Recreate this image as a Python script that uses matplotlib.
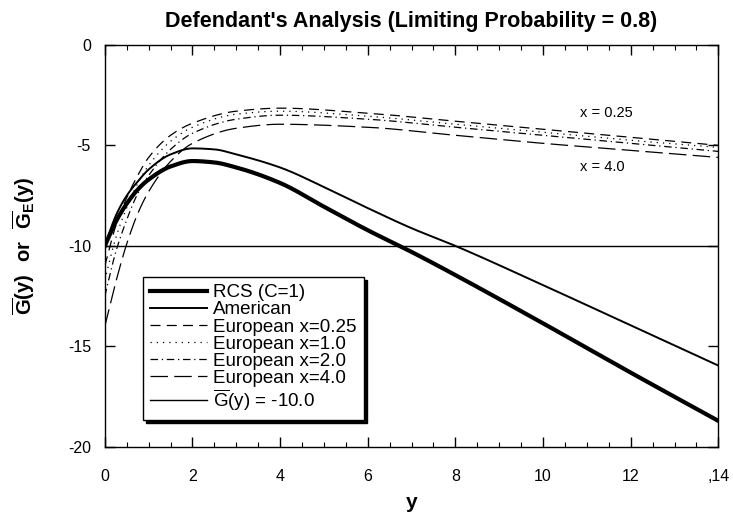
import numpy as np
import matplotlib
matplotlib.use("Agg")
import matplotlib.pyplot as plt

plt.rcParams['font.family'] = ['Liberation Sans', 'DejaVu Sans']
plt.rcParams['mathtext.fontset'] = 'custom'
plt.rcParams['mathtext.rm'] = 'Liberation Sans'
plt.rcParams['mathtext.bf'] = 'Liberation Sans:bold'
plt.rcParams['axes.unicode_minus'] = False

y_pts = [0, 0.25, 0.5, 0.75, 1, 1.5, 2, 2.5, 3, 4, 5, 6, 7, 8, 10, 12, 14]

rcs = [-10, -8.8, -7.9, -7.2, -6.7, -6.05, -5.78, -5.85, -6.1, -6.87, -8.05, -9.22, -10.3, -11.45, -13.85, -16.3, -18.7]
american = [-10, -8.5, -7.5, -6.8, -6.2, -5.45, -5.15, -5.2, -5.45, -6.1, -7.07, -8.12, -9.12, -10.0, -11.95, -13.95, -15.95]

y_eu = [0, 0.25, 0.5, 0.75, 1, 1.5, 2, 3, 4, 6, 8, 10, 12, 14]
eu_025 = [-11.0, -9.0, -7.6, -6.5, -5.6, -4.5, -3.9, -3.3, -3.15, -3.4, -3.8, -4.2, -4.6, -5.0]
eu_10 = [-11.7, -9.6, -8.1, -6.9, -6.0, -4.8, -4.1, -3.45, -3.3, -3.55, -3.95, -4.35, -4.75, -5.1]
eu_20 = [-12.5, -10.3, -8.7, -7.4, -6.5, -5.2, -4.4, -3.7, -3.5, -3.7, -4.1, -4.5, -4.9, -5.3]
eu_40 = [-14.0, -11.8, -9.9, -8.4, -7.3, -5.8, -4.9, -4.15, -3.95, -4.1, -4.5, -4.9, -5.25, -5.6]

g_level = -10.0


def pchip(xp, fp, n=500):
    # shape preserving cubic through the read-off points
    x = np.asarray(xp, float)
    y = np.asarray(fp, float)
    h = np.diff(x)
    d = np.diff(y) / h
    m = np.zeros_like(y)
    for i in range(1, len(x) - 1):
        if d[i - 1] * d[i] > 0:
            w1 = 2 * h[i] + h[i - 1]
            w2 = h[i] + 2 * h[i - 1]
            m[i] = (w1 + w2) / (w1 / d[i - 1] + w2 / d[i])
    m[0] = d[0]
    m[-1] = d[-1]
    xs = np.linspace(x[0], x[-1], n)
    k = np.clip(np.searchsorted(x, xs) - 1, 0, len(x) - 2)
    t = (xs - x[k]) / h[k]
    h00 = 2 * t**3 - 3 * t**2 + 1
    h10 = t**3 - 2 * t**2 + t
    h01 = -2 * t**3 + 3 * t**2
    h11 = t**3 - t**2
    ys = h00 * y[k] + h10 * h[k] * m[k] + h01 * y[k + 1] + h11 * h[k] * m[k + 1]
    return xs, ys


fig = plt.figure(figsize=(7.33, 5.21), dpi=100)
ax = fig.add_axes([0.143, 0.142, 0.837, 0.772])

ax.plot(*pchip(y_pts, rcs), color='black', lw=3.0, label='RCS (C=1)')
ax.plot(*pchip(y_pts, american), color='black', lw=1.4, label='American')
ax.plot(*pchip(y_eu, eu_025), color='black', lw=0.9, dashes=(8, 5), label='European x=0.25')
ax.plot(*pchip(y_eu, eu_10), color='black', lw=0.9, dashes=(1, 4), label='European x=1.0')
ax.plot(*pchip(y_eu, eu_20), color='black', lw=0.9, dashes=(6, 3, 1, 3), label='European x=2.0')
ax.plot(*pchip(y_eu, eu_40), color='black', lw=0.9, dashes=(14, 5), label='European x=4.0')
ax.axhline(g_level, color='black', lw=1.0, label=r'$\overline{\mathrm{G}}$(y) = -10.0')

ax.set_xlim(0, 14)
ax.set_ylim(-20, 0)
ax.set_xticks([0, 2, 4, 6, 8, 10, 12, 14])
ax.set_xticklabels(['0', '2', '4', '6', '8', '10', '12', ',14'])
ax.set_xticks(np.arange(0, 14.01, 0.5), minor=True)
ax.set_yticks([0, -5, -10, -15, -20])
ax.tick_params(which='both', direction='in', top=True, right=True, labelsize=11.5)
ax.tick_params(axis='x', pad=16)
ax.tick_params(axis='y', pad=10)
ax.tick_params(which='major', length=7, width=1)
ax.tick_params(which='minor', length=3.5, width=0.8)
for s in ax.spines.values():
    s.set_linewidth(1.0)

ax.set_title("Defendant's Analysis (Limiting Probability = 0.8)", fontsize=15.5,
             fontweight='bold', pad=13)
ax.set_xlabel('y', fontsize=15, fontweight='bold', labelpad=6)
ax.set_ylabel(r'$\mathbf{\overline{G}(y)\ \ or\ \ \overline{G}_E(y)}$',
              fontsize=14.5, labelpad=22)

ax.text(10.85, -3.4, 'x = 0.25', fontsize=10.5, va='center')
ax.text(10.85, -6.1, 'x = 4.0', fontsize=10.5, va='center')

leg = ax.legend(loc='lower left', bbox_to_anchor=(0.062, 0.067), fontsize=13.5,
                frameon=True, fancybox=False,
                shadow={'color': 'black', 'alpha': 1.0, 'ox': 2.2, 'oy': -2.2},
                handlelength=3.0, handletextpad=0.35, labelspacing=0.0,
                borderpad=0.4, borderaxespad=0)
leg.get_frame().set_edgecolor('black')
leg.get_frame().set_linewidth(1.0)
leg.get_frame().set_alpha(1.0)

fig.savefig('out.png', dpi=100)
